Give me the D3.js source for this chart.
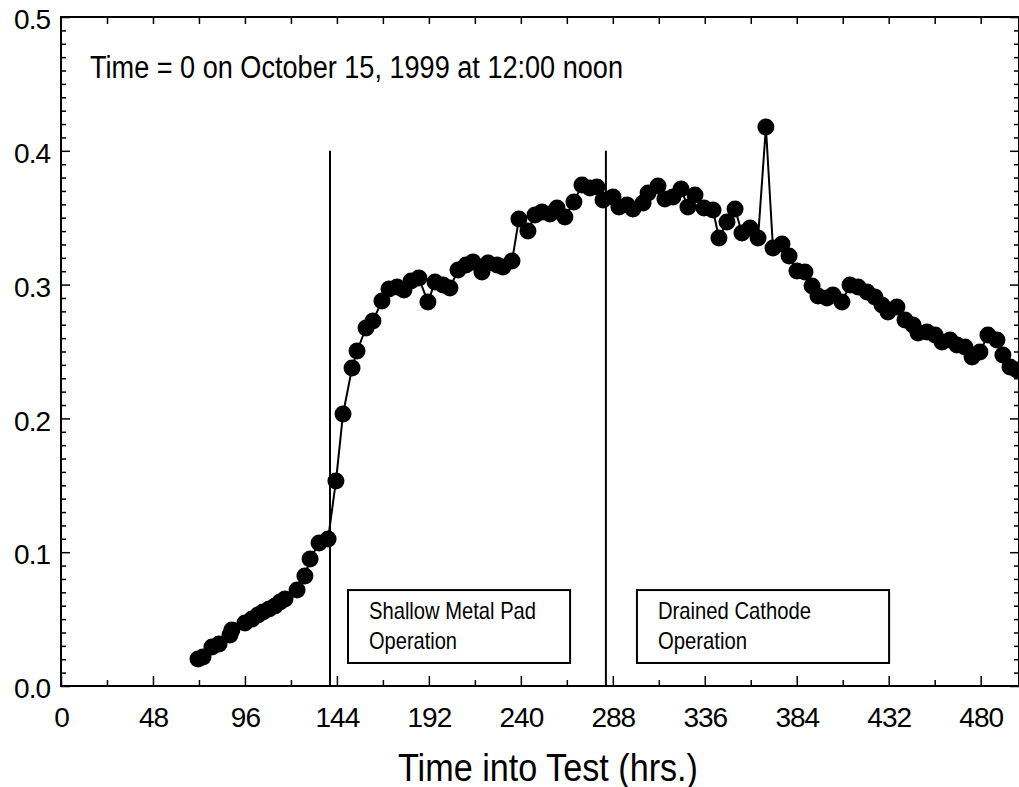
<!DOCTYPE html>
<html>
<head>
<meta charset="utf-8">
<script src="https://cdn.jsdelivr.net/npm/d3@7"></script>
<style>
  body { margin: 0; background: #fff; }
  text { font-family: "Liberation Sans", Arial, sans-serif; fill: #000; }
</style>
</head>
<body>
<div id="chart-area"></div>
<script>
// hours into test
var hours = [71.5, 74.1, 78.8, 82.5, 88.2, 89.2, 96.0, 99.7, 102.8, 105.4,
  108.6, 111.7, 114.3, 116.9, 123.2, 127.3, 130.0, 134.7, 139.4, 143.5,
  147.2, 151.9, 154.5, 159.2, 162.8, 167.5, 171.2, 175.4, 179.0, 182.7,
  186.8, 191.5, 195.2, 199.4, 203.0, 207.2, 211.4, 215.0, 219.7, 222.9,
  227.6, 230.7, 235.4, 239.0, 243.7, 247.4, 251.0, 255.2, 258.9, 263.0,
  267.7, 271.9, 276.1, 279.7, 282.9, 288.1, 291.2, 295.4, 298.5, 303.8,
  306.4, 311.6, 315.2, 319.4, 323.6, 327.2, 330.9, 335.6, 340.3, 343.4,
  347.6, 351.8, 355.4, 359.6, 363.8, 367.9, 371.6, 376.3, 380.0, 384.1,
  388.3, 392.0, 395.1, 399.8, 402.9, 407.6, 411.8, 416.0, 420.7, 424.8,
  428.5, 431.6, 436.3, 440.5, 444.7, 447.3, 452.0, 456.2, 459.8, 464.0,
  467.6, 471.8, 475.5, 479.6, 483.8, 488.5, 491.6, 495.3, 498.9]

var values = [0.0202, 0.0217, 0.0291, 0.0314, 0.0381, 0.0419, 0.0471, 0.0501, 0.0531, 0.0553,
  0.0575, 0.0598, 0.0628, 0.0650, 0.0717, 0.0822, 0.0949, 0.1069, 0.1099, 0.1532,
  0.2033, 0.2377, 0.2504, 0.2676, 0.2728, 0.2877, 0.2967, 0.2982, 0.2960, 0.3027,
  0.3049, 0.2870, 0.3019, 0.2997, 0.2975, 0.3109, 0.3146, 0.3169, 0.3094, 0.3161,
  0.3146, 0.3132, 0.3176, 0.3490, 0.3401, 0.3520, 0.3543, 0.3528, 0.3572, 0.3505,
  0.3617, 0.3744, 0.3722, 0.3729, 0.3632, 0.3655, 0.3580, 0.3595, 0.3565, 0.3610,
  0.3685, 0.3737, 0.3640, 0.3655, 0.3714, 0.3580, 0.3670, 0.3572, 0.3558, 0.3348,
  0.3468, 0.3565, 0.3386, 0.3423, 0.3348, 0.4178, 0.3274, 0.3303, 0.3214, 0.3102,
  0.3094, 0.2990, 0.2915, 0.2900, 0.2922, 0.2870, 0.2997, 0.2982, 0.2945, 0.2907,
  0.2848, 0.2795, 0.2833, 0.2735, 0.2698, 0.2638, 0.2646, 0.2623, 0.2571, 0.2586,
  0.2549, 0.2534, 0.2459, 0.2496, 0.2623, 0.2586, 0.2474, 0.2384, 0.2362]

var xTicks = [0, 48, 96, 144, 192, 240, 288, 336, 384, 432, 480]
var xMinor = d3.range(24, 500, 48)
var yTicks = [0.0, 0.1, 0.2, 0.3, 0.4, 0.5]
var yMinor = d3.range(0.01, 0.5, 0.01).filter(function(d) { return Math.abs(d * 10 - Math.round(d * 10)) > 0.01 })

// operation changes (hrs)
var changes = [140.4, 284.4]
var boxes = [
  { x0: 149.8, x1: 265.7, lines: ["Shallow Metal Pad", "Operation"], w: [167, 88] },
  { x0: 300.6, x1: 432.2, lines: ["Drained Cathode", "Operation"], w: [153, 89] }
]

var svg = d3.select("#chart-area")
  .append("svg")
  .attr("width", 1019)
  .attr("height", 787)

var x = d3.scaleLinear()
  .domain([0, 500])
  .range([61, 1019])

var y = d3.scaleLinear()
  .domain([0, 0.5])
  .range([686, 17])

// frame
svg.append("rect")
  .attr("x", x(0)).attr("y", y(0.5))
  .attr("width", x(500) - x(0)).attr("height", y(0) - y(0.5))
  .attr("fill", "none").attr("stroke", "#000").attr("stroke-width", 2)

// bottom axis, ticks inward
var xAxis = svg.append("g")
  .attr("transform", "translate(0," + y(0) + ")")
  .call(d3.axisBottom(x).tickValues(xTicks).tickSize(-10).tickPadding(21)
    .tickFormat(d3.format("d")))
xAxis.selectAll("text").attr("font-size", 28).style("font-family", "Liberation Sans, Arial")
  .attr("letter-spacing", -1)
svg.append("g")
  .attr("transform", "translate(0," + y(0) + ")")
  .call(d3.axisBottom(x).tickValues(xMinor).tickSize(-6).tickFormat(""))

// top ticks
svg.append("g")
  .attr("transform", "translate(0," + y(0.5) + ")")
  .call(d3.axisTop(x).tickValues(d3.range(24, 500, 24)).tickSize(-7).tickFormat(""))

// left axis
var yAxis = svg.append("g")
  .attr("transform", "translate(" + x(0) + ",0)")
  .call(d3.axisLeft(y).tickValues(yTicks).tickSize(-9).tickPadding(11)
    .tickFormat(d3.format(".1f")))
yAxis.selectAll("text").attr("font-size", 28).attr("dy", "0.42em").style("font-family", "Liberation Sans, Arial")
  .attr("letter-spacing", -1)
svg.append("g")
  .attr("transform", "translate(" + x(0) + ",0)")
  .call(d3.axisLeft(y).tickValues(yMinor).tickSize(-5).tickFormat(""))

// right axis ticks
svg.append("g")
  .attr("transform", "translate(" + x(500) + ",0)")
  .call(d3.axisRight(y).tickValues(yTicks).tickSize(-9).tickFormat(""))
svg.append("g")
  .attr("transform", "translate(" + x(500) + ",0)")
  .call(d3.axisRight(y).tickValues(yMinor).tickSize(-5).tickFormat(""))

svg.selectAll(".domain").remove()
svg.selectAll(".tick line").attr("stroke", "#000").attr("stroke-width", 1.5)

// vertical lines where the operation changed
svg.selectAll(".change")
  .data(changes)
  .enter()
  .append("line")
  .attr("x1", function(d) { return x(d) })
  .attr("x2", function(d) { return x(d) })
  .attr("y1", y(0.4))
  .attr("y2", y(0))
  .attr("stroke", "#000")
  .attr("stroke-width", 2)

// annotation boxes
boxes.forEach(function(b) {
  svg.append("rect")
    .attr("x", x(b.x0)).attr("y", y(0.0717))
    .attr("width", x(b.x1) - x(b.x0)).attr("height", y(0.0172) - y(0.0717))
    .attr("fill", "#fff").attr("stroke", "#000").attr("stroke-width", 2)
  b.lines.forEach(function(t, i) {
    svg.append("text")
      .attr("x", x(b.x0) + 21)
      .attr("y", y(0.0717) + 29 + i * 30)
      .attr("font-size", 24)
      .attr("textLength", b.w[i])
      .attr("lengthAdjust", "spacingAndGlyphs")
      .text(t)
  })
})

// data line and points
var pts = hours.map(function(h, i) { return [h, values[i]] })

svg.append("path")
  .datum(pts)
  .attr("fill", "none")
  .attr("stroke", "#000")
  .attr("stroke-width", 2)
  .attr("d", d3.line()
    .x(function(d) { return x(d[0]) })
    .y(function(d) { return y(d[1]) }))

svg.selectAll("circle")
  .data(pts)
  .enter()
  .append("circle")
  .attr("cx", function(d) { return x(d[0]) })
  .attr("cy", function(d) { return y(d[1]) })
  .attr("r", 8.5)
  .attr("fill", "#000")

// texts
svg.append("text")
  .attr("x", 90).attr("y", 78)
  .attr("font-size", 31)
  .attr("textLength", 533)
  .attr("lengthAdjust", "spacingAndGlyphs")
  .text("Time = 0 on October 15, 1999 at 12:00 noon")

svg.append("text")
  .attr("x", 398).attr("y", 781)
  .attr("font-size", 38)
  .attr("textLength", 300)
  .attr("lengthAdjust", "spacingAndGlyphs")
  .text("Time into Test (hrs.)")
</script>
</body>
</html>
